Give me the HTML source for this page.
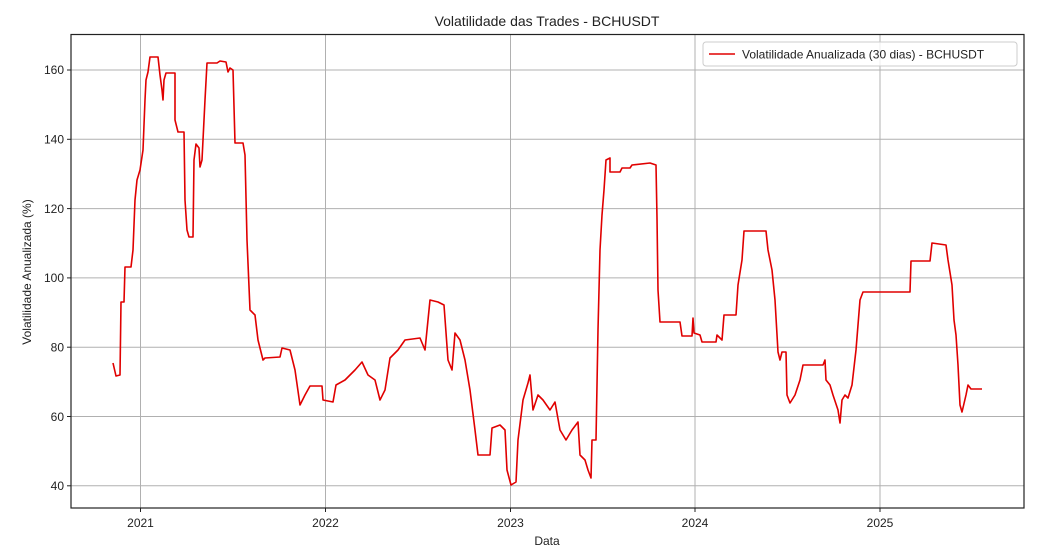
<!DOCTYPE html>
<html><head><meta charset="utf-8"><style>
body{margin:0;background:#fff;}
svg{display:block;font-family:"Liberation Sans","DejaVu Sans",sans-serif;}
</style></head><body>
<svg width="1047" height="555" viewBox="0 0 1047 555">
<rect width="1047" height="555" fill="#fff"/>
<g stroke="#b0b0b0" stroke-width="1">
<line x1="140.5" y1="34.5" x2="140.5" y2="508"/>
<line x1="325.5" y1="34.5" x2="325.5" y2="508"/>
<line x1="510.5" y1="34.5" x2="510.5" y2="508"/>
<line x1="695" y1="34.5" x2="695" y2="508"/>
<line x1="880" y1="34.5" x2="880" y2="508"/>
<line x1="71" y1="70" x2="1024" y2="70"/>
<line x1="71" y1="139.3" x2="1024" y2="139.3"/>
<line x1="71" y1="208.6" x2="1024" y2="208.6"/>
<line x1="71" y1="277.9" x2="1024" y2="277.9"/>
<line x1="71" y1="347.2" x2="1024" y2="347.2"/>
<line x1="71" y1="416.5" x2="1024" y2="416.5"/>
<line x1="71" y1="485.8" x2="1024" y2="485.8"/>
</g>
<polyline fill="none" stroke="#e00000" stroke-width="1.6" stroke-linejoin="round" points="113,363 116,376 120,375 121,302 124,302 125,267 131,267 133,250 135,200 137,180 140,170 143,150 145,100 146,80 148,72 150,57 158,57 160,75 162,90 163,100 164,80 166,73 175,73 175,120 178,132 184,132 185,200 187,230 189,237 193,237 194,160 196,144 199,148 200,167 202,160 205,100 207,63 217,63 220,61 226,62 228,72 230,68 233,70 235,143 243,143 245,155 247,240 250,310 255,315 258,340 263,360 265,358 280,357 282,348 290,350 295,370 300,405 305,395 310,386 322,386 323,400 333,402 336,385 345,380 355,370 362,362 368,375 375,380 380,400 385,390 390,358 398,350 405,340 420,338 425,350 430,300 438,302 444,305 448,360 452,370 455,333 460,340 465,360 470,390 475,430 478,455 490,455 492,428 500,425 505,430 507,470 511,485 516,482 518,440 523,400 528,383 530,375 533,410 538,395 543,400 550,410 555,402 560,430 566,440 572,430 578,422 580,455 585,460 588,470 591,478 592,440 596,440 598,330 600,250 602,215 604,190 606,160 610,158 610,172 620,172 622,168 630,168 632,165 650,163 656,165 657,218 658,290 660,322 680,322 682,336 692,336 693,318 694,333 700,335 702,342 716,342 717,335 722,340 724,315 736,315 738,285 742,260 744,231 766,231 768,250 772,270 775,300 778,352 780,360 782,352 786,352 787,395 790,403 795,395 800,380 803,365 823,365 825,360 826,380 830,385 833,395 838,410 840,423 842,400 845,395 848,398 852,385 856,350 860,300 863,292 910,292 911,261 930,261 932,243 946,245 948,260 952,285 954,320 956,335 958,365 960,405 962,412 966,395 968,385 971,389 982,389"/>
<rect x="71" y="34.5" width="953" height="473.5" fill="none" stroke="#222" stroke-width="1.2"/>
<g stroke="#222" stroke-width="1">
<line x1="140.5" y1="508" x2="140.5" y2="512"/><line x1="325.5" y1="508" x2="325.5" y2="512"/><line x1="510.5" y1="508" x2="510.5" y2="512"/><line x1="695" y1="508" x2="695" y2="512"/><line x1="880" y1="508" x2="880" y2="512"/>
<line x1="67" y1="70" x2="71" y2="70"/><line x1="67" y1="139.3" x2="71" y2="139.3"/><line x1="67" y1="208.6" x2="71" y2="208.6"/><line x1="67" y1="277.9" x2="71" y2="277.9"/><line x1="67" y1="347.2" x2="71" y2="347.2"/><line x1="67" y1="416.5" x2="71" y2="416.5"/><line x1="67" y1="485.8" x2="71" y2="485.8"/>
</g>
<g font-size="12" fill="#222" text-anchor="end">
<text x="64" y="74">160</text><text x="64" y="143.5">140</text><text x="64" y="213">120</text><text x="64" y="282">100</text><text x="64" y="351.5">80</text><text x="64" y="421">60</text><text x="64" y="490">40</text>
</g>
<g font-size="12" fill="#222" text-anchor="middle">
<text x="140.5" y="527">2021</text><text x="325.5" y="527">2022</text><text x="510.5" y="527">2023</text><text x="695" y="527">2024</text><text x="880" y="527">2025</text>
<text x="547" y="545">Data</text>
<text x="547" y="26" font-size="14">Volatilidade das Trades - BCHUSDT</text>
<text transform="translate(31,272) rotate(-90)">Volatilidade Anualizada (%)</text>
</g>
<rect x="703" y="42" width="314" height="24" rx="3" fill="#fff" fill-opacity="0.8" stroke="#ccc"/>
<line x1="709" y1="54" x2="735" y2="54" stroke="#e00000" stroke-width="1.6"/>
<text x="742" y="58.5" font-size="12" fill="#222">Volatilidade Anualizada (30 dias) - BCHUSDT</text>
</svg>
</body></html>
